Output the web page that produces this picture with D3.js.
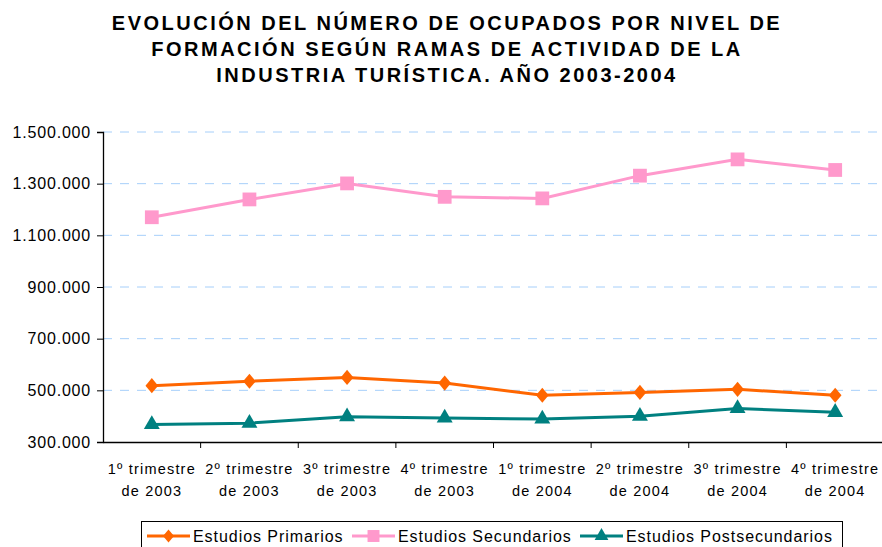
<!DOCTYPE html>
<html>
<head>
  <meta charset="utf-8">
  <title>Ocupados por nivel de formación</title>
  <script src="https://d3js.org/d3.v7.min.js"></script>
  <style>
    body { margin: 0; background: #fff; }
    text { font-family: "Liberation Sans", Arial, sans-serif; }
  </style>
</head>
<body>
<div id="chart"></div>
<script type="text/javascript">
  let w = 882;
  let h = 547;

  let trimestres = ['1º trimestre', '2º trimestre', '3º trimestre', '4º trimestre',
                    '1º trimestre', '2º trimestre', '3º trimestre', '4º trimestre'];
  let anios = ['de 2003', 'de 2003', 'de 2003', 'de 2003',
               'de 2004', 'de 2004', 'de 2004', 'de 2004'];
  let primarios = [518000, 535000, 550000, 528000, 481000, 492000, 504000, 481000];
  let secundarios = [1170000, 1239000, 1301000, 1249000, 1243000, 1331000, 1394000, 1353000];
  let postsecundarios = [368000, 373000, 398000, 393000, 389000, 400000, 430000, 415000];
  let yTicks = [300000, 500000, 700000, 900000, 1100000, 1300000, 1500000];
  let titulo = ['EVOLUCIÓN DEL NÚMERO DE OCUPADOS POR NIVEL DE',
                'FORMACIÓN SEGÚN RAMAS DE ACTIVIDAD DE LA',
                'INDUSTRIA TURÍSTICA. AÑO 2003-2004'];

  let series = [
    {name: 'Estudios Primarios', values: primarios, color: '#FF6600', symbol: 'diamond'},
    {name: 'Estudios Secundarios', values: secundarios, color: '#FF99CC', symbol: 'square'},
    {name: 'Estudios Postsecundarios', values: postsecundarios, color: '#008080', symbol: 'triangle'}
  ];

  let mLeft = 103, mRight = 884, mTop = 132, mBottom = 442;

  let xScale = d3.scaleBand()
                .domain(d3.range(trimestres.length))
                .range([mLeft, mRight]);

  let yScale = d3.scaleLinear()
                .domain([300000, 1500000])
                .range([mBottom, mTop]);

  let fmt = v => d3.format(',')(v).replace(/,/g, '.');

  let svg = d3.select('#chart')
              .append('svg')
              .attr('width', w)
              .attr('height', h);

  // titulo
  svg.append('g')
     .selectAll('text')
     .data(titulo)
     .enter()
     .append('text')
     .attr('x', 447)
     .attr('y', (d, i) => 30 + i * 26)
     .attr('text-anchor', 'middle')
     .attr('font-size', '20px')
     .attr('font-weight', 'bold')
     .attr('letter-spacing', '2.5px')
     .attr('fill', '#000')
     .text(d => d);

  // rejilla
  svg.append('g')
     .selectAll('line')
     .data(yTicks.slice(1))
     .enter()
     .append('line')
     .attr('x1', mLeft)
     .attr('x2', w)
     .attr('y1', d => yScale(d))
     .attr('y2', d => yScale(d))
     .attr('stroke', '#A6CFFA')
     .attr('stroke-width', 1)
     .attr('stroke-dasharray', '9,8');

  // eje y
  let yAxis = svg.append('g')
     .attr('transform', `translate(${mLeft},0)`)
     .call(d3.axisLeft(yScale).tickValues(yTicks).tickFormat(fmt).tickSize(6).tickPadding(6));
  yAxis.select('.domain').attr('stroke', '#000').attr('stroke-width', 1.3);
  yAxis.selectAll('.tick line').attr('stroke', '#000');
  yAxis.selectAll('.tick text')
       .attr('font-size', '16px')
       .attr('letter-spacing', '0.8px')
       .attr('font-family', '"Liberation Sans", Arial, sans-serif')
       .attr('fill', '#000');

  // eje x
  let xAxis = svg.append('g')
     .attr('transform', `translate(0,${mBottom})`)
     .call(d3.axisBottom(xScale).tickSize(0).tickFormat(''));
  xAxis.select('.domain').attr('stroke', '#000').attr('stroke-width', 1.3);
  xAxis.selectAll('.tick').remove();

  svg.append('g')
     .selectAll('line')
     .data(d3.range(1, trimestres.length))
     .enter()
     .append('line')
     .attr('x1', d => xScale(d))
     .attr('x2', d => xScale(d))
     .attr('y1', mBottom)
     .attr('y2', mBottom + 6)
     .attr('stroke', '#000');

  let xLab = svg.append('g')
     .selectAll('text')
     .data(trimestres)
     .enter()
     .append('text')
     .attr('text-anchor', 'middle')
     .attr('font-size', '14.5px')
     .attr('letter-spacing', '1.2px')
     .attr('fill', '#000');
  xLab.append('tspan')
      .attr('x', (d, i) => xScale(i) + xScale.bandwidth() / 2)
      .attr('y', 474)
      .text(d => d);
  xLab.append('tspan')
      .attr('x', (d, i) => xScale(i) + xScale.bandwidth() / 2)
      .attr('y', 496)
      .text((d, i) => anios[i]);

  // rombo como el de Excel (casi cuadrado)
  let rombo = {
    draw(context, size) {
      let r = Math.sqrt(size / 2);
      context.moveTo(0, -r * 1.1);
      context.lineTo(r * 0.92, 0);
      context.lineTo(0, r * 1.1);
      context.lineTo(-r * 0.92, 0);
      context.closePath();
    }
  };
  let symbolType = {diamond: rombo, square: d3.symbolSquare, triangle: d3.symbolTriangle};
  let symbolSize = {diamond: 95, square: 190, triangle: 110};

  let line = d3.line()
              .x((d, i) => xScale(i) + xScale.bandwidth() / 2)
              .y(d => yScale(d));

  series.forEach(s => {
    svg.append('path')
       .datum(s.values)
       .attr('d', line)
       .attr('fill', 'none')
       .attr('stroke', s.color)
       .attr('stroke-width', 3);

    svg.append('g')
       .selectAll('path')
       .data(s.values)
       .enter()
       .append('path')
       .attr('transform', (d, i) => `translate(${xScale(i) + xScale.bandwidth() / 2},${yScale(d)})`)
       .attr('d', d3.symbol().type(symbolType[s.symbol]).size(symbolSize[s.symbol]))
       .attr('fill', s.color);
  });

  // leyenda
  let legend = svg.append('g');
  legend.append('rect')
        .attr('x', 141.5)
        .attr('y', 521.5)
        .attr('width', 701)
        .attr('height', 40)
        .attr('fill', 'none')
        .attr('stroke', '#000');

  let legX = [147, 352, 580];
  series.forEach((s, i) => {
    let g = legend.append('g').attr('transform', `translate(${legX[i]},536)`);
    g.append('line')
     .attr('x1', 0).attr('x2', 43)
     .attr('y1', 0).attr('y2', 0)
     .attr('stroke', s.color)
     .attr('stroke-width', 3);
    g.append('path')
     .attr('transform', 'translate(21.5,0)')
     .attr('d', d3.symbol().type(symbolType[s.symbol]).size(symbolSize[s.symbol] * 0.75))
     .attr('fill', s.color);
    g.append('text')
     .attr('x', 46)
     .attr('y', 5.5)
     .attr('font-size', '16px')
     .attr('letter-spacing', '0.95px')
     .attr('fill', '#000')
     .text(s.name);
  });
</script>
</body>
</html>
